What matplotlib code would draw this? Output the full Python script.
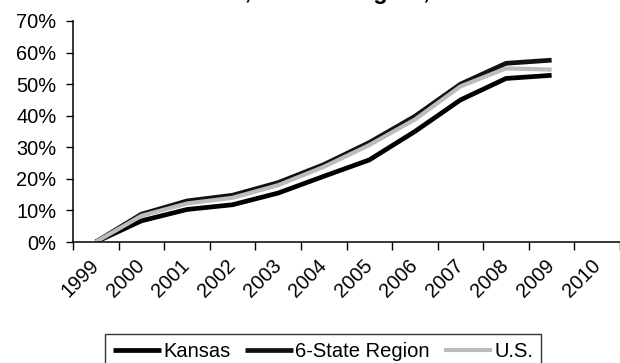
import matplotlib
matplotlib.use("Agg")
import matplotlib.pyplot as plt
from matplotlib.ticker import FuncFormatter

plt.rcParams['font.family'] = ['Liberation Sans', 'DejaVu Sans']

years = ['1999', '2000', '2001', '2002', '2003', '2004', '2005',
         '2006', '2007', '2008', '2009', '2010']
kansas = [0.0, 6.7, 10.3, 11.8, 15.5, 20.8, 26.0, 35.0, 45.0, 51.8, 52.8]
region = [0.0, 8.8, 13.0, 14.8, 18.8, 24.5, 31.5, 39.8, 50.0, 56.6, 57.6]
us = [0.0, 8.3, 12.2, 14.0, 18.0, 23.8, 30.7, 38.8, 49.3, 55.0, 54.6]

W, H = 620, 363
fig = plt.figure(figsize=(W / 100, H / 100), dpi=100)
ax = fig.add_axes([73 / W, 1 - 242 / H, (620 - 73) / W, (242 - 21) / H])

# values sit in the middle of each year slot
xs = [i + 0.5 for i in range(len(kansas))]
ax.plot(xs, [v / 100 for v in kansas], color='black', lw=3.4,
        solid_joinstyle='round', solid_capstyle='butt', label='Kansas')
ax.plot(xs, [v / 100 for v in region], color='#111111', lw=3.4,
        solid_joinstyle='round', solid_capstyle='butt', label='6-State Region')
ax.plot(xs, [v / 100 for v in us], color='#bcbcbc', lw=3.0,
        solid_joinstyle='round', solid_capstyle='butt', label='U.S.')

ax.set_xlim(0, len(years))
ax.set_ylim(0, 0.7)
ax.set_yticks([i / 10 for i in range(8)])
ax.yaxis.set_major_formatter(FuncFormatter(lambda v, p: f"{v * 100:.0f}%"))
ax.set_xticks(range(len(years) + 1))
ax.set_xticklabels([])
ax.set_xticks([i + 0.5 for i in range(len(years))], minor=True)
ax.set_xticklabels(years, minor=True, rotation=45, ha='right', va='center',
                   rotation_mode='anchor', fontsize=14.4)
ax.tick_params(axis='x', which='minor', length=0, pad=15)
ax.tick_params(axis='x', which='major', length=6, width=1, direction='out')
ax.tick_params(axis='y', length=5, width=1, direction='out', labelsize=14.4, pad=7)

for s in ['top', 'right']:
    ax.spines[s].set_visible(False)
for s in ['left', 'bottom']:
    ax.spines[s].set_linewidth(1.1)

fig.text(346 / W, 1 + 1 / H, 'Kansas, 6-State Region, and U.S.',
         ha='center', va='baseline', fontsize=17, fontweight='bold')

leg = fig.legend(loc='upper left', bbox_to_anchor=(105 / W, 1 - 334 / H),
                 ncol=3, fontsize=14.5, frameon=True, fancybox=False,
                 handlelength=2.4, handletextpad=0.1, columnspacing=0.7,
                 borderpad=0.4, borderaxespad=0)
leg.get_frame().set_edgecolor('black')
leg.get_frame().set_linewidth(1.0)

fig.savefig('out.png', dpi=100)
